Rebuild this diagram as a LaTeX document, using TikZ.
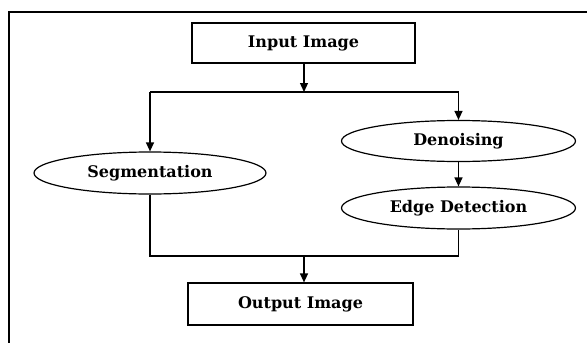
\documentclass[tikz,border=0pt]{standalone}
\usepackage{fontspec}
\setmainfont{DejaVu Serif}
\usetikzlibrary{shapes.geometric,arrows.meta}
\tikzset{
  labelfont/.style={font=\fontsize{16}{18}\selectfont\bfseries},
  boxnode/.style={draw, line width=1.2pt, minimum width=223pt, minimum height=40pt, inner sep=0pt, labelfont},
  ellnode/.style={draw, ellipse, line width=1.2pt, minimum width=234pt, minimum height=41pt, inner sep=0pt, labelfont},
  conn/.style={line width=1.3pt},
  arr/.style={conn, -{Triangle[length=9pt,width=8pt]}},
}
\begin{document}
\begin{tikzpicture}[x=1pt,y=-1pt]
\useasboundingbox (0,0) rectangle (587,343);
\draw[line width=2pt] (9,343) -- (9,12) -- (587,12);
\node[boxnode] (in) at (303.5,43) {Input Image};
\node[ellnode, minimum width=232pt, minimum height=42pt] (seg) at (150,173) {Segmentation};
\node[ellnode] (den) at (458.5,141) {Denoising};
\node[ellnode, minimum height=42pt] (edge) at (458.5,208) {Edge Detection};
\node[boxnode, minimum width=225pt, minimum height=42pt] (out) at (300.5,304) {Output Image};
\coordinate (split) at (304,92);
\coordinate (splitL) at (150,92);
\coordinate (splitR) at (458.5,92);
\coordinate (merge) at (304,256);
\coordinate (mergeL) at (150,256);
\coordinate (mergeR) at (458.5,256);
\draw[arr] (in.south -| split) -- (split);
\draw[conn] (splitL) -- (splitR);
\draw[arr] (splitL) -- (seg.north);
\draw[arr] (splitR) -- (den.north);
\draw[arr] (den.south) -- (edge.north);
\draw[conn] (seg.south) -- (mergeL) -- (mergeR) -- (edge.south);
\draw[arr] (merge) -- (out.north -| merge);
\end{tikzpicture}
\end{document}
